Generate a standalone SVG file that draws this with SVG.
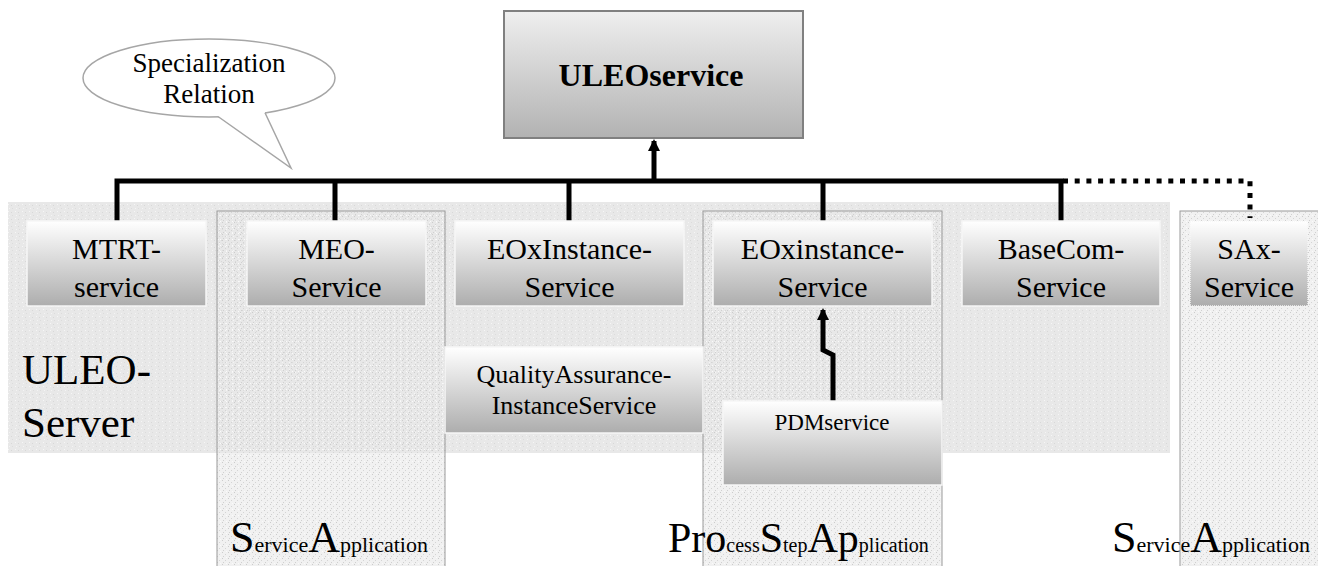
<svg xmlns="http://www.w3.org/2000/svg" width="1318" height="566" viewBox="0 0 1318 566" font-family="'Liberation Serif', 'Times New Roman', serif">
<style>
.nt{font-size:30px;text-anchor:middle}
.node{fill:url(#gNode);stroke:#f6f6f6;stroke-width:1.5}
.col{fill:url(#texB);stroke:#9a9a9a;stroke-width:1}
.colbase{fill:#f1f1f1}
.bus{fill:none;stroke:#000;stroke-width:5;stroke-linejoin:miter;stroke-linecap:butt}
.big{font-size:44px}
.sm{font-size:22px}
</style>
<defs>
<linearGradient id="gNode" x1="0" y1="0" x2="0" y2="1">
<stop offset="0" stop-color="#ffffff"/>
<stop offset="1" stop-color="#adadad"/>
</linearGradient>
<linearGradient id="gTop" x1="0" y1="0" x2="0" y2="1">
<stop offset="0" stop-color="#efefef"/>
<stop offset="1" stop-color="#b2b2b2"/>
</linearGradient>
<pattern id="texA" width="7" height="7" patternUnits="userSpaceOnUse">
<rect width="7" height="7" fill="#e8e8e8"/>
<rect x="1" y="1" width="1" height="1" fill="#f6f6f6"/>
<rect x="4" y="2" width="1" height="1" fill="#d8d8d8"/>
<rect x="2" y="5" width="1" height="1" fill="#f4f4f4"/>
<rect x="5" y="5" width="1" height="1" fill="#dcdcdc"/>
</pattern>
<pattern id="texB" width="6" height="6" patternUnits="userSpaceOnUse">
<rect x="0" y="0" width="1" height="1" fill="#cccccc"/>
<rect x="3" y="2" width="1" height="1" fill="#d4d4d4"/>
<rect x="1" y="4" width="1" height="1" fill="#d0d0d0"/>
<rect x="4" y="5" width="1" height="1" fill="#fafafa"/>
</pattern>
<marker id="ah" viewBox="0 0 12 12" refX="10" refY="6" markerWidth="12" markerHeight="12" markerUnits="userSpaceOnUse" orient="auto">
<path d="M0,0 L12,6 L0,12 Z" fill="#000"/>
</marker>
</defs>

<!-- background regions -->
<g id="regions">
<rect class="colbase" x="217" y="211" width="228" height="360"/>
<rect class="colbase" x="703" y="211" width="239" height="360"/>
<rect class="colbase" x="1180" y="211" width="145" height="360"/>
<rect id="uleo-server" x="8" y="202" width="1162" height="251" fill="url(#texA)"/>
<rect class="col" x="217" y="211" width="228" height="360"/>
<rect class="col" x="703" y="211" width="239" height="360"/>
<rect class="col" x="1180" y="211" width="145" height="360"/>
<text x="22" y="384" font-size="43">ULEO-</text>
<text x="22" y="437" font-size="43">Server</text>
<text x="230" y="552"><tspan class="big">S</tspan><tspan class="sm">ervice</tspan><tspan class="big">A</tspan><tspan class="sm">pplication</tspan></text>
<text x="668" y="552"><tspan font-size="42">Pro</tspan><tspan font-size="20">cess</tspan><tspan font-size="42">S</tspan><tspan font-size="20">tep</tspan><tspan font-size="42">Ap</tspan><tspan font-size="20">plication</tspan></text>
<text x="1112" y="552"><tspan class="big">S</tspan><tspan class="sm">ervice</tspan><tspan class="big">A</tspan><tspan class="sm">pplication</tspan></text>
</g>

<!-- callout -->
<g id="callout">
<ellipse cx="209" cy="78" rx="126" ry="39" fill="#ffffff" stroke="#a6a6a6" stroke-width="1.5"/>
<polygon points="218,112 218,116.5 291,168 265,113 265,109" fill="#ffffff"/>
<polyline points="218,116.5 291,168 265,112.8" fill="none" stroke="#a6a6a6" stroke-width="1.5"/>
<text x="209" y="72" font-size="27" text-anchor="middle">Specialization</text>
<text x="209" y="103" font-size="27" text-anchor="middle">Relation</text>
</g>

<!-- connectors -->
<g id="connectors">
<path class="bus" d="M117,221 V181 H1061 V221"/>
<path class="bus" d="M335,181 V221 M569,181 V221 M823,181 V221"/>
<path class="bus" d="M654,181 V141" marker-end="url(#ah)"/>
<path d="M1063,181 H1250 V218" fill="none" stroke="#000" stroke-width="5" stroke-dasharray="5 6.7"/>
<path class="bus" d="M833,401 V355 L823,350 V310" marker-end="url(#ah)"/>
</g>

<!-- nodes -->
<g id="ULEOservice">
<rect x="504" y="11" width="299" height="127" fill="url(#gTop)" stroke="#808080" stroke-width="2"/>
<text x="651" y="86" font-size="32" font-weight="bold" text-anchor="middle">ULEOservice</text>
</g>
<g id="MTRT-service">
<rect class="node" x="27" y="221" width="179" height="85"/>
<text class="nt" x="116.5" y="259">MTRT-</text>
<text class="nt" x="116.5" y="297">service</text>
</g>
<g id="MEO-Service">
<rect class="node" x="247" y="221" width="179" height="85"/>
<text class="nt" x="336.5" y="259">MEO-</text>
<text class="nt" x="336.5" y="297">Service</text>
</g>
<g id="EOxInstance-Service">
<rect class="node" x="455" y="221" width="229" height="85"/>
<text class="nt" x="569.5" y="259">EOxInstance-</text>
<text class="nt" x="569.5" y="297">Service</text>
</g>
<g id="EOxinstance-Service">
<rect class="node" x="713" y="221" width="219" height="85"/>
<text class="nt" x="822.5" y="259">EOxinstance-</text>
<text class="nt" x="822.5" y="297">Service</text>
</g>
<g id="BaseCom-Service">
<rect class="node" x="962" y="221" width="198" height="85"/>
<text class="nt" x="1061" y="259">BaseCom-</text>
<text class="nt" x="1061" y="297">Service</text>
</g>
<g id="SAx-Service">
<rect class="node" x="1190" y="221" width="118" height="85" stroke-dasharray="1 1"/>
<text class="nt" x="1249" y="259">SAx-</text>
<text class="nt" x="1249" y="297">Service</text>
</g>
<g id="QualityAssurance-InstanceService">
<rect class="node" x="445" y="347" width="258" height="86"/>
<text x="574" y="383" font-size="26" text-anchor="middle">QualityAssurance-</text>
<text x="574" y="414" font-size="26" text-anchor="middle">InstanceService</text>
</g>
<g id="PDMservice">
<rect class="node" x="723" y="401" width="219" height="84"/>
<text x="832" y="430" font-size="23" text-anchor="middle">PDMservice</text>
</g>
</svg>
